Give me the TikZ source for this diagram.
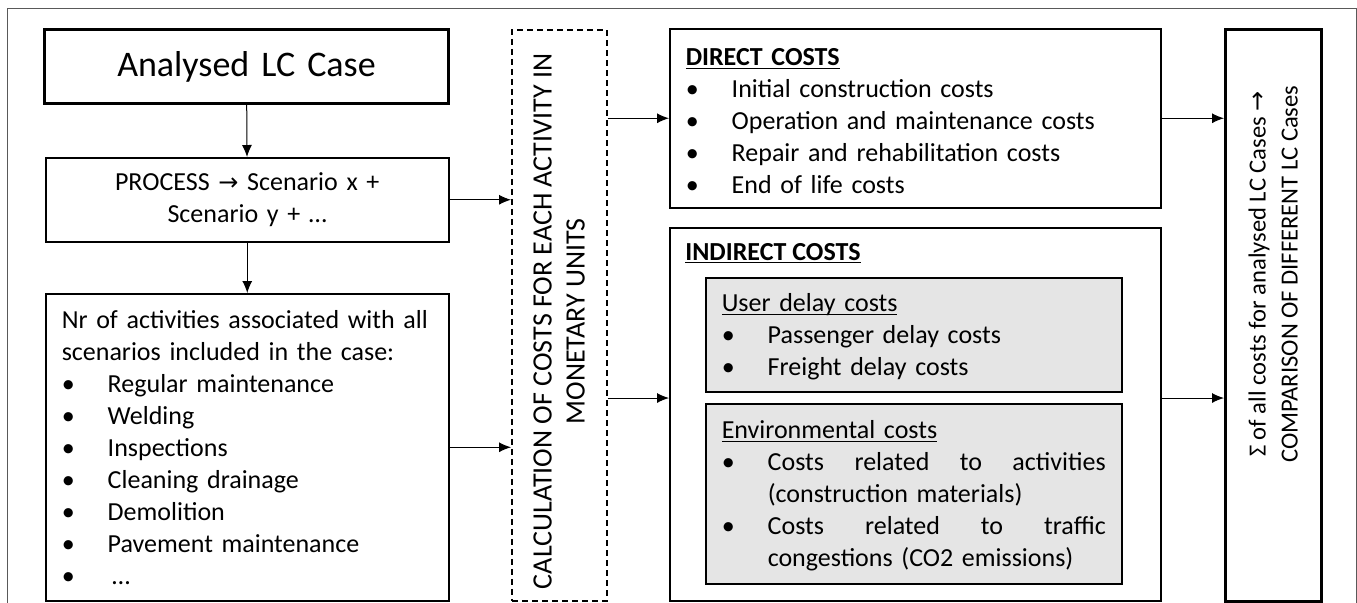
\documentclass[tikz,border=0pt]{standalone}
\usepackage{fontspec}
\setmainfont{Carlito}
\newfontfamily\arrowfont{DejaVu Sans}
\usetikzlibrary{arrows.meta}

\newcommand{\itm}{\makebox[23pt][l]{\textbullet}}
\newcommand{\rarr}{{\arrowfont\fontsize{12}{14}\selectfont →}}
\newcommand{\uln}[1]{\strut\underline{\smash{#1}}}

\begin{document}
\begin{tikzpicture}
  [x=0.5pt, y=-0.5pt, >={Latex[length=6pt,width=5pt]}, font=\fontsize{13}{16}\selectfont,
   box/.style={draw, line width=0.75pt, anchor=north west, inner xsep=8pt, inner ysep=0pt, align=left},
   greybox/.style={box, fill=gray!20},
   vtext/.style={rotate=90, align=center, inner sep=0pt, font=\fontsize{14}{16.5}\selectfont}]
  \clip (0,0) rectangle (1357,602);
  \draw [black!65, line width=0.5pt] (7,8) rectangle (1356,650);

  % left column
  \node [box, line width=1.5pt, align=center, text width=186pt, minimum height=37pt,
         font=\fontsize{18}{22}\selectfont] (case) at (43,28) {Analysed LC Case};
  \node [box, align=center, text width=185.5pt, minimum height=42pt] (proc) at (45,157)
    {PROCESS \rarr\ Scenario x +\\ Scenario y + …};
  \node [box, text width=185.5pt, minimum height=153.5pt] (acts) at (45,293)
    {Nr of activities associated with all\\
     scenarios included in the case:\\
     \itm Regular maintenance\\
     \itm Welding\\
     \itm Inspections\\
     \itm Cleaning drainage\\
     \itm Demolition\\
     \itm Pavement maintenance\\
     \itm \,…};

  % calculation
  \node [box, dashed, dash pattern=on 3pt off 2pt, minimum width=47.5pt, minimum height=285.5pt] (calc) at (511,29) {};
  \node [vtext] (calctext) at ([yshift=-3pt]calc.center)
    {CALCULATION OF COSTS FOR EACH ACTIVITY IN\\ MONETARY UNITS};

  % costs
  \node [box, text width=229.5pt, minimum height=89.5pt] (direct) at (669,28)
    {\textbf{\uln{DIRECT COSTS}}\\
     \itm Initial construction costs\\
     \itm Operation and maintenance costs\\
     \itm Repair and rehabilitation costs\\
     \itm End of life costs};
  \node [box, minimum width=245.5pt, minimum height=186.5pt] (indirect) at (669,227) {};
  \node [anchor=base west, inner sep=0pt] (indtitle) at (685,260) {\textbf{\uln{INDIRECT COSTS}}};
  \node [greybox, text width=192pt, minimum height=57pt] (user) at (705,277)
    {\uln{User delay costs}\\
     \itm Passenger delay costs\\
     \itm Freight delay costs};
  \node [greybox, text width=192pt, minimum height=90pt] (env) at (705,403)
    {\uln{Environmental costs}\\
     \itm Costs\hfill related\hfill to\hfill activities\\
     \hspace*{23pt}(construction materials)\\
     \itm Costs\hfill related\hfill to\hfill traffic\\
     \hspace*{23pt}congestions (CO2 emissions)};

  % sum
  \node [box, line width=1.25pt, minimum width=48pt, minimum height=286pt] (sum) at (1224,28) {};
  \node [vtext, font=\fontsize{12.3}{16}\selectfont] (sumtext) at (sum.north |- 0,274)
    {Σ of all costs for analysed LC Cases \rarr\\ COMPARISON OF DIFFERENT LC Cases};

  \draw [->, line width=0.5pt] (case) -- (proc);
  \draw [->, line width=0.5pt] (proc) -- (acts);
  \draw [->, line width=0.5pt] (proc.east) -- (proc.east -| calc.west);
  \draw [->, line width=0.5pt] (acts.east) -- (acts.east -| calc.west);
  \draw [->, line width=0.5pt] (calc.east |- direct.west) -- (direct.west);
  \draw [->, line width=0.5pt] (calc.east |- 0,398) -- (indirect.west |- 0,398);
  \draw [->, line width=0.5pt] (direct.east) -- (direct.east -| sum.west);
  \draw [->, line width=0.5pt] (indirect.east |- 0,398) -- (sum.west |- 0,398);
\end{tikzpicture}
\end{document}
